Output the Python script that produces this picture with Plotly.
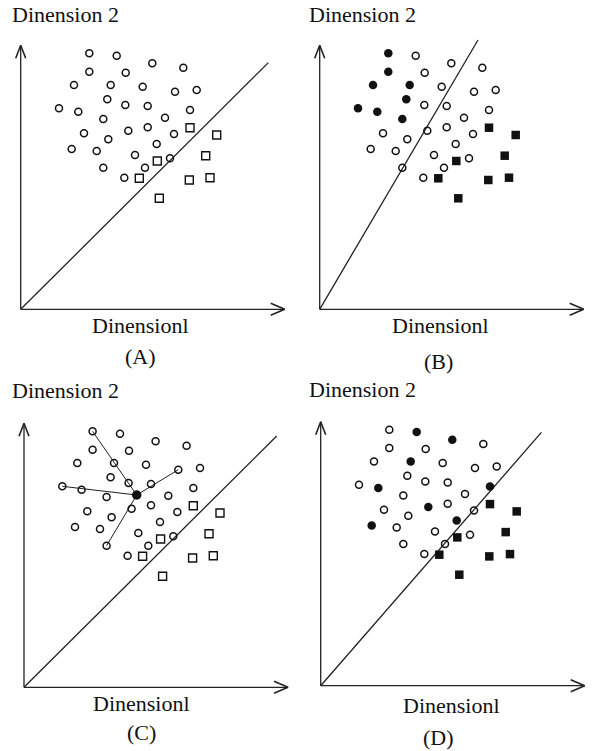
import plotly.graph_objects as go

# ---- data (units ~ pixels from each panel's origin) ----
circle_x = [68.6, 96.0, 131.6, 162.6, 68.6, 105.0, 53.3, 90.0, 122.0, 154.3, 176.0,
            86.6, 104.6, 127.0, 38.3, 57.6, 169.3, 82.6, 144.3, 107.6, 127.0, 63.3,
            153.3, 87.6, 136.0, 51.0, 76.0, 114.3, 149.3, 82.6, 124.3, 103.6]
circle_y = [256.0, 253.6, 246.0, 241.6, 237.6, 236.6, 224.3, 224.3, 222.6, 217.6, 219.3,
            210.0, 204.3, 203.3, 201.0, 197.6, 199.3, 190.3, 191.6, 178.6, 182.0, 176.0,
            175.3, 170.0, 165.3, 160.3, 158.3, 154.3, 151.0, 141.6, 141.6, 131.6]
square_x = [169.3, 196.0, 136.6, 185.0, 118.6, 168.6, 189.3, 138.6]
square_y = [181.6, 174.3, 148.3, 153.6, 131.0, 129.3, 131.6, 111.0]

# classes (indices into circle lists) marked black in panels B and D
filled_B = [0, 4, 6, 7, 11, 14, 15, 17]
filled_D = [1, 2, 7, 15, 16, 19, 24, 25]

# new query point and its nearest neighbours in panel C
query_x = [112.7]
query_y = [192.3]
neighbours_C = [0, 14, 9, 29]

# separating line end points per panel
line_end_x = [247.7, 158.3, 252.7, 220.7]
line_end_y = [246.7, 269.3, 251.3, 253.3]

axis_len = 264
panel_labels = ["(A)", "(B)", "(C)", "(D)"]
y_title = "Dinension 2"
x_title = "Dinensionl"

W, H = 596, 751
# panel pixel boxes (x0, x1, y0, y1) and origin pixel positions
panels = [
    dict(box=(0, 298, 0, 375), origin=(20.7, 309.3)),
    dict(box=(298, 596, 0, 375), origin=(319.7, 309.3)),
    dict(box=(0, 298, 375, 751), origin=(24.0, 687.3)),
    dict(box=(298, 596, 375, 751), origin=(320.7, 685.7)),
]
# text positions (units) : y-title, x-title, panel label
text_pos = [
    [(44.8, 294.5), (119.3, -16.5), (119.3, -47.5)],
    [(42.8, 294.5), (120.3, -16.5), (118.3, -52.5)],
    [(41.5, 296.5), (117.0, -16.5), (117.0, -45.5)],
    [(41.8, 296.5), (130.3, -20.0), (117.8, -52.0)],
]

INK = "#111111"
LINE = "#222222"
FONT = "Liberation Serif, Times New Roman, serif"

fig = go.Figure()
layout = dict(width=W, height=H, margin=dict(l=0, r=0, t=0, b=0),
              paper_bgcolor="white", plot_bgcolor="white", showlegend=False)
annotations = []

for i, p in enumerate(panels):
    x0, x1, y0, y1 = p["box"]
    ox, oy = p["origin"]
    xa = "x" if i == 0 else f"x{i+1}"
    ya = "y" if i == 0 else f"y{i+1}"
    xkey = "xaxis" if i == 0 else f"xaxis{i+1}"
    ykey = "yaxis" if i == 0 else f"yaxis{i+1}"
    layout[xkey] = dict(domain=[x0 / W, x1 / W], range=[x0 - ox, x1 - ox],
                        visible=False, anchor=ya, fixedrange=True)
    layout[ykey] = dict(domain=[1 - y1 / H, 1 - y0 / H], range=[oy - y1, oy - y0],
                        visible=False, anchor=xa, fixedrange=True)

    def add(trace):
        trace.update(xaxis=xa, yaxis=ya, hoverinfo="skip")
        fig.add_trace(trace)

    # axes with open arrowheads
    add(go.Scatter(x=[0, 0, None, 0, axis_len], y=[axis_len, 0, None, 0, 0],
                   mode="lines", line=dict(color=LINE, width=1.3)))
    add(go.Scatter(x=[-5, 0, 5], y=[axis_len - 13, axis_len, axis_len - 13],
                   mode="lines", line=dict(color=LINE, width=1.6)))
    add(go.Scatter(x=[axis_len - 14, axis_len, axis_len - 14], y=[6, 0, -6],
                   mode="lines", line=dict(color=LINE, width=1.6)))
    # separating line
    add(go.Scatter(x=[0, line_end_x[i]], y=[0, line_end_y[i]],
                   mode="lines", line=dict(color=LINE, width=1.3)))

    if i == 2:
        lx, ly = [], []
        for n in neighbours_C:
            lx += [query_x[0], circle_x[n], None]
            ly += [query_y[0], circle_y[n], None]
        add(go.Scatter(x=lx, y=ly, mode="lines", line=dict(color=LINE, width=1)))

    filled = filled_B if i == 1 else filled_D if i == 3 else []
    ox_, oy_ = [], []
    fx_, fy_ = [], []
    for k in range(len(circle_x)):
        if k in filled:
            fx_.append(circle_x[k]); fy_.append(circle_y[k])
        else:
            ox_.append(circle_x[k]); oy_.append(circle_y[k])
    add(go.Scatter(x=ox_, y=oy_, mode="markers",
                   marker=dict(symbol="circle-open", size=7, color=INK,
                               line=dict(width=1.5, color=INK))))
    if fx_:
        add(go.Scatter(x=fx_, y=fy_, mode="markers",
                       marker=dict(symbol="circle", size=8.5, color=INK)))
    if i in (1, 3):
        add(go.Scatter(x=square_x, y=square_y, mode="markers",
                       marker=dict(symbol="square", size=8.5, color=INK)))
    else:
        add(go.Scatter(x=square_x, y=square_y, mode="markers",
                       marker=dict(symbol="square-open", size=8, color=INK,
                                   line=dict(width=1.4, color=INK))))
    if i == 2:
        add(go.Scatter(x=query_x, y=query_y, mode="markers",
                       marker=dict(symbol="circle", size=9.5, color=INK)))

    texts = [y_title, x_title, panel_labels[i]]
    for (tx, ty), t in zip(text_pos[i], texts):
        annotations.append(dict(x=tx, y=ty, xref=xa, yref=ya, text=t, showarrow=False,
                                xanchor="center", yanchor="middle",
                                font=dict(family=FONT, size=22, color="#111111")))

layout["annotations"] = annotations
fig.update_layout(**layout)
fig.write_html("out.html", config={"displayModeBar": False},
               post_script="document.body.style.margin='0';document.body.style.padding='0';"
                           "document.body.style.overflow='hidden';")
